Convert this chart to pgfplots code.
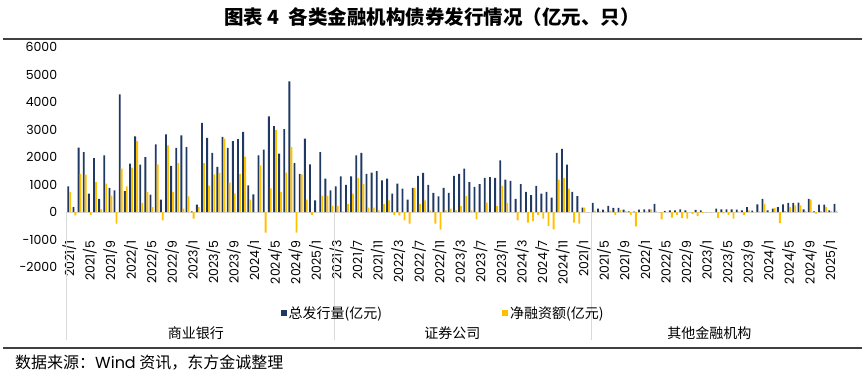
\documentclass[border=0pt]{standalone}
\usepackage{pgfplots}
\pgfplotsset{compat=1.18}
\usepackage{pgfplotstable}
\usepackage{fontspec}
\setmainfont{Poppins}
\newfontfamily\cjk{Noto Sans CJK SC}
\definecolor{navy}{HTML}{1F3864}
\definecolor{gold}{HTML}{FFC000}
\definecolor{sepgray}{HTML}{D9D9D9}
\definecolor{rulegray}{HTML}{404040}
\pgfplotstableread{
idx issue net
0 930 730
1 180 -120
2 2340 1390
3 2180 1360
4 670 -100
5 1960 1090
6 480 100
7 2060 1030
8 880 600
9 790 -420
10 4280 1580
11 760 930
12 1760 1610
13 2750 2580
14 1720 330
15 2000 730
16 630 180
17 2460 1730
18 450 -300
19 2820 2420
20 1680 730
21 2330 1780
22 2790 120
23 2360 570
24 20 -240
25 270 180
26 3240 1780
27 2700 960
28 2150 1370
29 1640 1420
30 2730 2670
31 2330 1070
32 2580 680
33 2650 1390
34 2910 2010
35 970 450
36 640 0
37 2060 1700
38 2270 -750
39 3480 860
40 3120 2990
41 2120 720
42 3010 1430
43 4750 2360
44 1780 -750
45 1390 1370
46 2670 450
47 1730 -100
48 420 0
49 2180 600
50 1210 600
51 790 220
52 930 220
53 1300 20
54 990 300
55 1300 670
56 2060 1240
57 2150 1010
58 1390 160
59 1430 160
60 1490 60
61 1150 300
62 1210 420
63 670 -100
64 1030 -120
65 850 -300
66 450 -420
67 880 880
68 1310 300
69 1420 420
70 990 60
71 700 -420
72 570 -640
73 880 60
74 700 120
75 1310 60
76 1390 210
77 1580 580
78 1090 60
79 910 -270
80 1010 10
81 1240 340
82 1270 0
83 1240 210
84 1880 950
85 1180 330
86 1130 0
87 480 -300
88 1010 0
89 730 -390
90 610 -330
91 950 -100
92 670 -240
93 730 -510
94 520 -630
95 2150 1180
96 2300 1240
97 1720 850
98 730 -390
99 580 -420
100 160 160
101 0 0
102 330 50
103 120 20
104 90 10
105 220 50
106 150 -100
107 150 80
108 90 30
109 20 -100
110 10 -520
111 90 0
112 100 20
113 100 100
114 300 20
115 0 -270
116 40 0
117 60 -200
118 60 -100
119 100 -220
120 60 -240
121 0 -80
122 80 -150
123 60 -30
124 0 0
125 0 0
126 120 -220
127 100 -50
128 100 -100
129 100 -240
130 90 10
131 60 -100
132 180 60
133 50 0
134 280 20
135 480 300
136 60 0
137 120 150
138 180 -400
139 280 30
140 330 180
141 330 240
142 340 240
143 100 30
144 480 450
145 20 -60
146 270 30
147 270 180
148 60 30
149 300 40
}\datatable
\begin{document}
\begin{tikzpicture}[x=1pt,y=1pt]
\path[use as bounding box] (0,0) rectangle (865,383);
\node[font=\cjk\bfseries\fontsize{19.5}{19.5}\selectfont] at (432,366) {图表 4\ \ 各类金融机构债券发行情况（亿元、只）};
\draw[line width=1.5pt, color=rulegray] (3,344) -- (862,344);
\draw[line width=1.5pt, color=rulegray] (3,35) -- (862,35);
\node[anchor=west, font=\cjk\fontsize{16}{16}\selectfont, inner sep=0pt] at (15,20) {数据来源：{\rmfamily Wind} 资讯，东方金诚整理};
\begin{axis}[
  at={(66.7pt,116pt)}, anchor=south west,
  scale only axis, width=771.3pt, height=220pt,
  xmin=-0.5, xmax=149.5, ymin=-2000, ymax=6000,
  axis line style={draw=none},
  major tick length=0pt,
  ytick={-2000,-1000,...,6000},
  /pgf/number format/.cd, 1000 sep={}, assume math mode=true, /pgfplots/.cd,
  yticklabel style={font=\fontsize{12.5}{12.5}\selectfont, anchor=east, xshift=-6pt},
  xtick={0,4,...,148},
  xticklabels={2021/1,2021/5,2021/9,2022/1,2022/5,2022/9,2023/1,2023/5,2023/9,2024/1,2024/5,2024/9,2025/1,
    2021/3,2021/7,2021/11,2022/3,2022/7,2022/11,2023/3,2023/7,2023/11,2024/3,2024/7,2024/11,
    2021/1,2021/5,2021/9,2022/1,2022/5,2022/9,2023/1,2023/5,2023/9,2024/1,2024/5,2024/9,2025/1},
  xticklabel style={font=\fontsize{12.5}{12.5}\selectfont, yshift=27pt, rotate=90, anchor=east, inner sep=0pt},
  extra y ticks={0}, extra y tick labels={},
  extra y tick style={grid=major, major grid style={draw=sepgray, line width=1pt}},
  ybar, bar width=0.36,
  clip=false,
  legend columns=2,
  legend style={draw=none, fill=none, at={(0.488,-0.209)}, anchor=center,
    font=\cjk\fontsize{14}{14}\selectfont, /tikz/every even column/.append style={column sep=118pt}},
  legend image code/.code={\fill[#1] (0pt,-3pt) rectangle (6pt,3pt);},
]
\addplot[fill=navy, draw=none, bar shift=-0.19] table[x=idx, y=issue] {\datatable};
\addlegendentry{总发行量(亿元)}
\addplot[fill=gold, draw=none, bar shift=0.19] table[x=idx, y=net] {\datatable};
\addlegendentry{净融资额(亿元)}
\draw[sepgray, line width=1pt] (axis cs:-0.45,0) -- (axis cs:-0.45,-4650);
\draw[sepgray, line width=1pt] (axis cs:51.5,0) -- (axis cs:51.5,-4650);
\draw[sepgray, line width=1pt] (axis cs:101.5,0) -- (axis cs:101.5,-4650);
\node[font=\cjk\fontsize{14}{14}\selectfont] at (axis cs:24.6,-4420) {商业银行};
\node[font=\cjk\fontsize{14}{14}\selectfont] at (axis cs:74.5,-4420) {证券公司};
\node[font=\cjk\fontsize{14}{14}\selectfont] at (axis cs:124.5,-4420) {其他金融机构};
\end{axis}
\end{tikzpicture}
\end{document}
